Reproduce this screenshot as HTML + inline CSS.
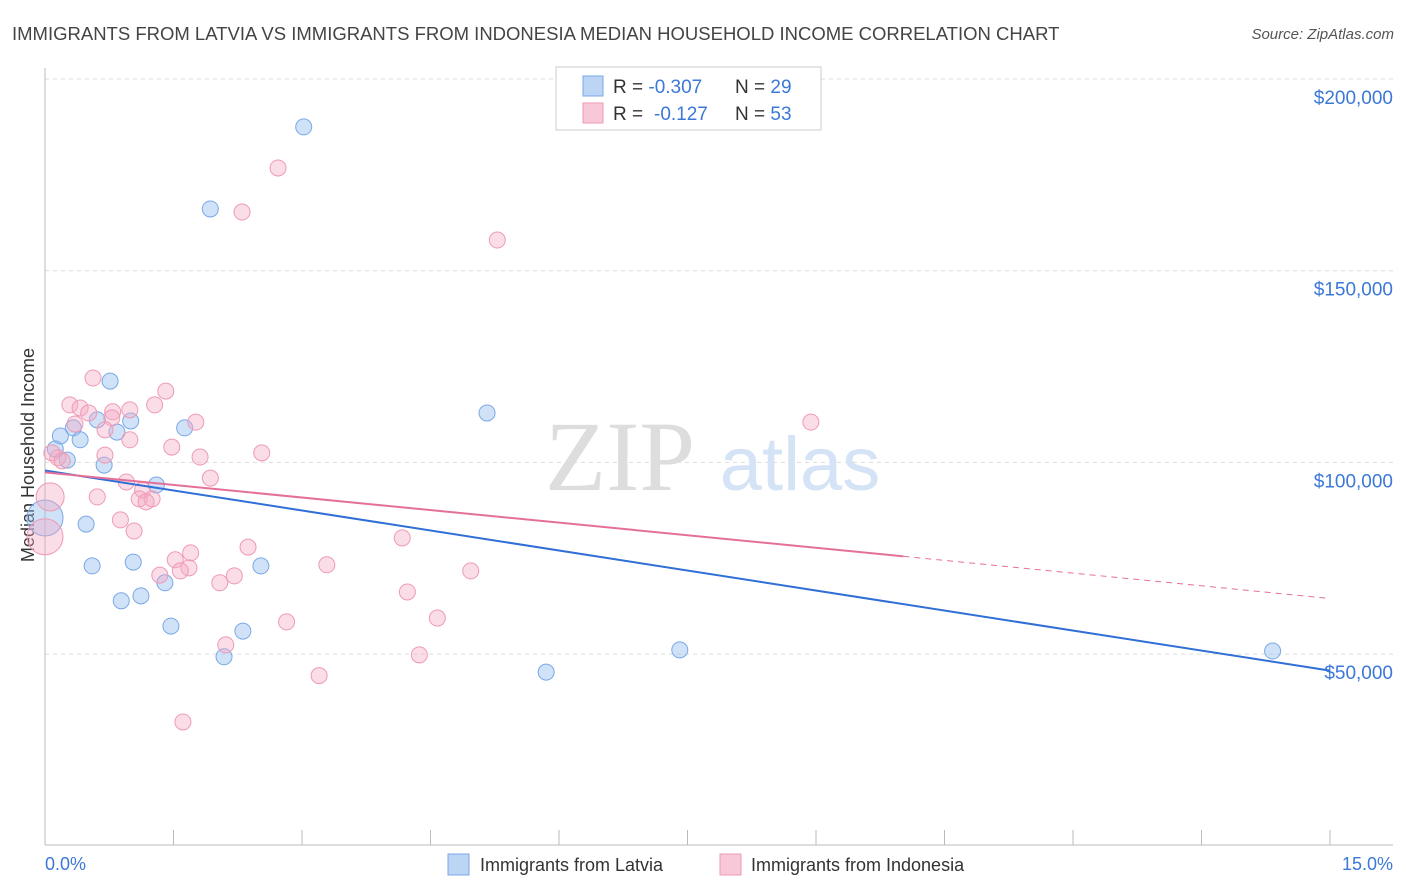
<!DOCTYPE html>
<html><head><meta charset="utf-8"><style>
body{margin:0;background:#fff;font-family:"Liberation Sans",sans-serif;}
svg{display:block}
</style></head><body>
<svg id="chart" width="1406" height="892">
<text x="12" y="40" font-size="18.5" fill="#444">IMMIGRANTS FROM LATVIA VS IMMIGRANTS FROM INDONESIA MEDIAN HOUSEHOLD INCOME CORRELATION CHART</text>
<text x="1394" y="39" font-size="15" fill="#555" font-style="italic" text-anchor="end">Source: ZipAtlas.com</text>
<g id="grid"></g>
<g><text x="620" y="490" font-size="100" fill="#ddd" font-family="Liberation Serif" text-anchor="middle">ZIP</text><text x="800" y="490" font-size="76" fill="#d4e3f5" text-anchor="middle">atlas</text></g>
<line x1="45" y1="68" x2="45" y2="845" stroke="#bbb"/>
<line x1="45" y1="845" x2="1393" y2="845" stroke="#bbb"/>
<g id="ticks"></g>
<g id="ylabels"></g>
<text transform="translate(34,455) rotate(-90)" font-size="18" fill="#333" text-anchor="middle">Median Household Income</text>
<text x="45" y="870" font-size="18" fill="#3b78d8">0.0%</text>
<text x="1393" y="870" font-size="18" fill="#3b78d8" text-anchor="end">15.0%</text>
<g id="pts"></g>
<g id="trends"></g>
<g>
<rect x="556" y="67" width="265" height="63" fill="#fff" stroke="#ccc"/>
<rect x="583" y="76" width="20" height="20" fill="#bcd5f5" stroke="#7aa8e6"/>
<text x="613" y="93" font-size="19" fill="#333">R = <tspan fill="#3b78d8">-0.307</tspan><tspan x="735">N = </tspan><tspan fill="#3b78d8">29</tspan></text>
<rect x="583" y="103" width="20" height="20" fill="#f8c8d8" stroke="#ee9ab5"/>
<text x="613" y="120" font-size="19" fill="#333">R = <tspan x="654" fill="#3b78d8">-0.127</tspan><tspan x="735">N = </tspan><tspan fill="#3b78d8">53</tspan></text>
</g>
<g>
<rect x="448" y="854" width="21" height="21" fill="#bcd5f5" stroke="#7aa8e6"/>
<text x="480" y="871" font-size="18" fill="#333">Immigrants from Latvia</text>
<rect x="720" y="854" width="21" height="21" fill="#f8c8d8" stroke="#ee9ab5"/>
<text x="751" y="871" font-size="18" fill="#333">Immigrants from Indonesia</text>
</g>
</svg>
<script>
const yTicks=[50000,100000,150000,200000];
const yTickLabels=["$50,000","$100,000","$150,000","$200,000"];
const xTicks=[0,1.5,3,4.5,6,7.5,9,10.5,12,13.5,15];
const latviaX=[3.02,1.93,0.76,5.16,1.00,0.61,1.63,0.84,0.33,0.18,0.41,0.12,0.26,0.69,1.30,0.0,0.48,0.55,1.03,2.52,1.40,1.12,0.89,1.47,2.31,2.09,5.85,7.41,14.33];
const latviaY=[187500,166100,121200,112900,110800,111100,109000,107900,109000,106900,105900,103500,100600,99300,94100,85500,83900,73000,74000,73000,68600,65200,63900,57300,56000,49300,45300,51100,50800];
const latviaR=[8,8,8,8,8,8,8,8,8,8,8,8,8,8,8,18,8,8,8,8,8,8,8,8,8,8,8,8,8];
const indoX=[2.72,2.30,5.28,0.56,1.41,0.29,1.28,0.41,0.79,0.99,0.51,0.78,1.76,0.35,8.94,0.70,0.99,1.48,0.70,2.53,1.81,0.15,0.08,1.93,0.95,1.14,0.61,0.06,1.10,1.25,1.18,0.88,1.04,4.17,2.37,1.70,1.52,1.68,3.29,1.34,1.58,4.97,2.21,2.04,4.23,4.58,2.82,2.11,4.37,3.20,1.61,0.0,0.20];
const indoY=[176800,165300,158000,122000,118600,115000,115000,114200,113200,113700,112900,111600,110500,110000,110500,108500,105900,104000,101900,102500,101400,101200,102500,95900,94900,92800,91000,91000,90500,90500,89700,85000,82100,80300,77900,76400,74600,72500,73300,70600,71700,71700,70400,68600,66200,59400,58400,52400,49800,44400,32300,80600,100400];
const indoR=[8,8,8,8,8,8,8,8,8,8,8,8,8,8,8,8,8,8,8,8,8,8,8,8,8,8,8,14,8,8,8,8,8,8,8,8,8,8,8,8,8,8,8,8,8,8,8,8,8,8,8,18,8];
const latviaTrend=[[0,97900],[15,45700]];
const indoTrend=[[0,97400],[10.02,75500],[15,64500]];
const NS="http://www.w3.org/2000/svg";
const sx=p=>45+p*(1285/15);
const sy=v=>79+(200000-v)*(191.7/50000);
function mk(t,a,parent){const e=document.createElementNS(NS,t);for(const k in a)e.setAttribute(k,a[k]);document.getElementById(parent).appendChild(e);return e;}
yTicks.forEach((v,i)=>{
 const g=mk('line',{x1:45,x2:1393,y1:sy(v),y2:sy(v),stroke:'#ddd','stroke-dasharray':'4,4'},'grid');
 
 
 const t=mk('text',{x:1393,y:sy(v)+25,'font-size':19,fill:'#3b78d8','text-anchor':'end'},'ylabels');
 t.textContent=yTickLabels[i];
 
 
});
xTicks.forEach(p=>{
 const l=mk('line',{x1:sx(p),x2:sx(p),y1:830,y2:845,stroke:'#bbb'},'ticks');
 
 
});
latviaX.forEach((p,i)=>{
 const c=mk('circle',{cx:sx(p),cy:sy(latviaY[i]),r:latviaR[i],fill:'rgba(150,190,240,0.45)',stroke:'#7aa8e6','stroke-width':1},'pts');
 
 
});
indoX.forEach((p,i)=>{
 const c=mk('circle',{cx:sx(p),cy:sy(indoY[i]),r:indoR[i],fill:'rgba(245,170,195,0.4)',stroke:'#ee9ab5','stroke-width':1},'pts');
 
 
});
const bl=mk('line',{x1:sx(latviaTrend[0][0]),y1:sy(latviaTrend[0][1]),x2:sx(latviaTrend[1][0]),y2:sy(latviaTrend[1][1]),stroke:'#2f6fd6','stroke-width':2},'trends');


const pl=mk('line',{x1:sx(indoTrend[0][0]),y1:sy(indoTrend[0][1]),x2:sx(indoTrend[1][0]),y2:sy(indoTrend[1][1]),stroke:'#e4709a','stroke-width':2},'trends');


const pd=mk('line',{x1:sx(indoTrend[1][0]),y1:sy(indoTrend[1][1]),x2:sx(indoTrend[2][0]),y2:sy(indoTrend[2][1]),stroke:'#e4709a','stroke-width':1,'stroke-dasharray':'6,5'},'trends');


</script>
</body></html>
